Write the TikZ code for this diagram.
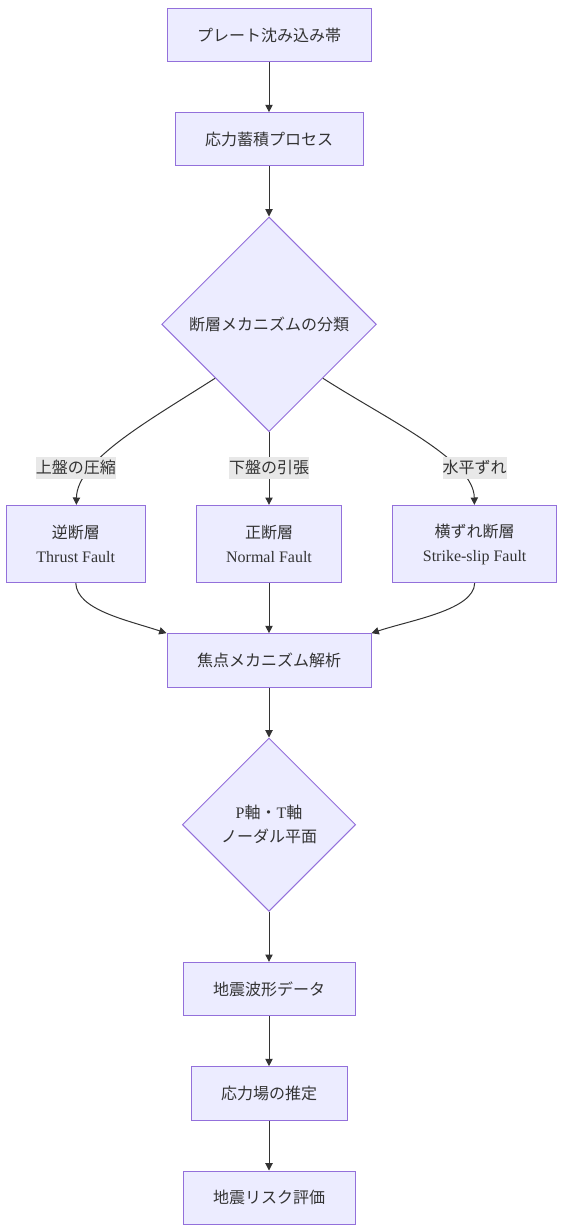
\documentclass[tikz,border=0pt]{standalone}
\usepackage{fontspec}
\setmainfont{Liberation Serif}
\newfontfamily\jp{Noto Sans CJK JP}
\usetikzlibrary{arrows.meta, positioning, shapes.geometric}
\definecolor{boxfill}{HTML}{ECECFF}
\definecolor{boxline}{HTML}{9370DB}
\definecolor{ink}{HTML}{333333}
\definecolor{lblfill}{HTML}{E8E8E8}

\begin{document}
\begin{tikzpicture}[x=0.75pt, y=-0.75pt, node distance=37.5pt, >={Triangle[length=5.5pt, width=5.5pt]},
    box/.style={rectangle, draw=boxline, fill=boxfill, line width=0.75pt, text=ink, inner xsep=22.5pt, inner ysep=0pt, minimum height=40pt, align=center, font=\fontsize{12pt}{18pt}\selectfont},
    tallbox/.style={box, minimum height=58pt},
    decision/.style={diamond, draw=boxline, fill=boxfill, line width=0.75pt, text=ink, inner sep=0pt, align=center, font=\fontsize{12pt}{18pt}\selectfont},
    lbl/.style={rectangle, fill=lblfill, text=ink, inner sep=0pt, minimum height=16.5pt, font=\fontsize{12pt}{18pt}\selectfont\jp},
    flow/.style={->, draw=ink, line width=0.75pt}]
        \useasboundingbox (0,0) rectangle (564,1230);
        \node[box] (subd) at (269,35) {\jp プレート沈み込み帯};
        \node[box, below=of subd] (accum) {\jp 応力蓄積プロセス};
        \node[decision, minimum width=161pt, minimum height=161pt, below=of accum] (classify) {\jp 断層メカニズムの分類};
        \node[tallbox, below=54.5pt of classify] (normal) {{\jp 正断層}\\Normal Fault};
        \node[tallbox, left=of normal] (thrust) {{\jp 逆断層}\\Thrust Fault};
        \node[tallbox, right=of normal] (strike) {{\jp 横ずれ断層}\\Strike-slip Fault};
        \node[box, below=of normal] (focal) {\jp 焦点メカニズム解析};
        \node[decision, minimum width=130pt, minimum height=130pt, below=of focal] (axes) {P{\jp 軸・}T{\jp 軸}\\{\jp ノーダル平面}};
        \node[box, below=of axes] (wave) {\jp 地震波形データ};
        \node[box, below=of wave] (stressf) {\jp 応力場の推定};
        \node[box, below=of stressf] (risk) {\jp 地震リスク評価};
        \draw[flow] (subd) -- (accum);
        \draw[flow] (accum) -- (classify);
        \draw[flow] (classify.south west) .. controls (150,420) and (77,460) .. (thrust);
        \draw[flow] (classify) -- (normal);
        \draw[flow] (classify.south east) .. controls (388,420) and (474,460) .. (strike);
        \draw[flow] (thrust.south) .. controls (77,610) and (127,620) .. (focal.north west);
        \draw[flow] (normal) -- (focal);
        \draw[flow] (strike.south) .. controls (474,610) and (411,620) .. (focal.north east);
        \draw[flow] (focal) -- (axes);
        \draw[flow] (axes) -- (wave);
        \draw[flow] (wave) -- (stressf);
        \draw[flow] (stressf) -- (risk);
        % edge labels on top of the lines
        \node[lbl, above=19.5pt of thrust] (lblthrust) {上盤の圧縮};
        \node[lbl, above=19.5pt of normal] (lblnormal) {下盤の引張};
        \node[lbl, above=19.5pt of strike] (lblstrike) {水平ずれ};
    \end{tikzpicture}
\end{document}
